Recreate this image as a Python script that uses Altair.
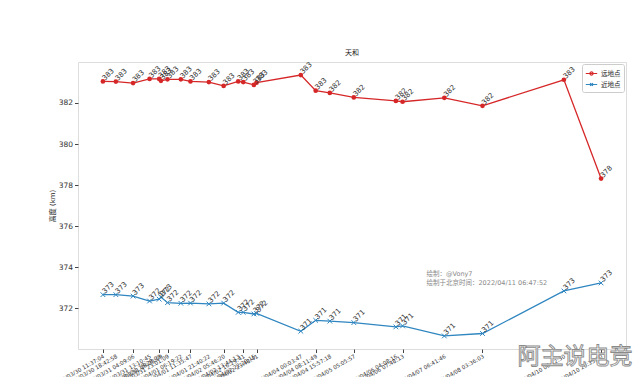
import altair as alt
import pandas as pd
from datetime import datetime

FONT = "DejaVu Sans, Noto Sans CJK SC"

times = [
    "2022-03-30T11:37:04", "2022-03-30T18:42:58", "2022-03-31T04:09:06",
    "2022-03-31T13:10:45", "2022-03-31T18:28:03", "2022-03-31T19:25:09",
    "2022-03-31T23:01:09", "2022-04-01T06:19:22", "2022-04-01T11:35:47",
    "2022-04-01T21:40:22", "2022-04-02T05:46:20", "2022-04-02T13:44:13",
    "2022-04-02T16:29:41", "2022-04-02T22:20:15", "2022-04-02T23:48:41",
    "2022-04-04T00:03:47", "2022-04-04T08:11:49", "2022-04-04T15:57:18",
    "2022-04-05T05:05:57", "2022-04-06T04:08:16", "2022-04-06T07:48:13",
    "2022-04-07T06:41:46", "2022-04-08T03:36:03", "2022-04-10T00:12:30",
    "2022-04-10T20:35:10",
]
apogee = [
    383.05, 383.04, 382.97, 383.17, 383.17, 383.08, 383.15, 383.15, 383.05,
    383.02, 382.83, 383.05, 383.02, 382.88, 382.99, 383.36, 382.60, 382.49,
    382.27, 382.10, 382.06, 382.25, 381.86, 383.13, 378.32,
]
perigee = [
    372.67, 372.67, 372.60, 372.36, 372.45, 372.55, 372.28, 372.25, 372.26,
    372.22, 372.26, 371.81, 371.81, 371.73, 371.76, 370.89, 371.42, 371.38,
    371.31, 371.10, 371.15, 370.66, 370.78, 372.85, 373.24,
]
series_names = ["远地点", "近地点"]
series_colors = ["#d62728", "#2f86c0"]
legend_shapes = [
    "M-1,0L1,0M-0.28,0A0.28,0.28,0,1,1,0.28,0A0.28,0.28,0,1,1,-0.28,0",
    "M-1,0L1,0M-0.25,-0.25L0.25,0.25M-0.25,0.25L0.25,-0.25",
]
y_ticks = [370, 372, 374, 376, 378, 380, 382]
note_lines = ["绘制：@Vony7", "绘制于北京时间：2022/04/11 06:47:52"]
note_time = "2022-04-06T20:55:00"
note_y = [373.66, 373.22]
watermark = "阿主说电竞"

df = pd.concat([
    pd.DataFrame({"time": times, "value": apogee, "series": series_names[0]}),
    pd.DataFrame({"time": times, "value": perigee, "series": series_names[1]}),
], ignore_index=True)
tick_df = pd.DataFrame({"time": times})
notes = pd.DataFrame({"time": [note_time] * 2, "value": note_y, "text": note_lines})


def to_dt(d):
    return alt.DateTime(year=d.year, month=d.month, date=d.day, hours=d.hour,
                        minutes=d.minute, seconds=d.second)


parsed = [datetime.fromisoformat(t) for t in times]
span = parsed[-1] - parsed[0]
lo = parsed[0] - span * 0.05
hi = parsed[-1] + span * 0.05
vmin = min(perigee + apogee)
vmax = max(perigee + apogee)
vr = vmax - vmin
y_dom = [vmin - 0.05 * vr, vmax + 0.05 * vr]

x_enc = alt.X(
    "time:T",
    scale=alt.Scale(domain=[to_dt(lo), to_dt(hi)]),
    axis=alt.Axis(
        values=[to_dt(d) for d in parsed], labels=False, title=None,
        grid=False, domain=False, tickColor="#444", tickSize=3.5,
    ),
)
y_enc = alt.Y(
    "value:Q",
    scale=alt.Scale(domain=y_dom, nice=False, zero=False),
    axis=alt.Axis(
        values=y_ticks, title="高度 (km)", titleFontSize=7, titleFontWeight="normal",
        titleFont=FONT, titleColor="#222", titlePadding=3,
        labelFontSize=7.5, labelFont=FONT, labelColor="#333",
        grid=False, domain=False, tickColor="#444", tickSize=3.5, labelPadding=2,
    ),
)
color_scale = alt.Scale(domain=series_names, range=series_colors)
shape_scale = alt.Scale(domain=series_names, range=legend_shapes)
leg = alt.Legend(
    title=None, orient="top-right", labelFontSize=6.5, labelFont=FONT,
    labelColor="#222", symbolOpacity=1, symbolStrokeWidth=1.2, symbolSize=130,
    strokeColor="#ccc", fillColor="white", padding=3, offset=2, cornerRadius=2,
    rowPadding=0, labelOffset=3)

base = alt.Chart(df)
red = base.transform_filter(alt.datum.series == series_names[0])
blue = base.transform_filter(alt.datum.series == series_names[1])
red_line = red.mark_line(strokeWidth=1.3, color=series_colors[0]).encode(x=x_enc, y=y_enc)
blue_line = blue.mark_line(strokeWidth=1.3, color=series_colors[1]).encode(x="time:T", y="value:Q")
legend_layer = base.mark_point(filled=False, opacity=0, size=10).encode(
    x="time:T", y="value:Q",
    color=alt.Color("series:N", scale=color_scale, sort=series_names, legend=leg),
    shape=alt.Shape("series:N", scale=shape_scale, sort=series_names, legend=leg),
)
red_pts = red.mark_point(
    filled=True, size=22, color=series_colors[0], opacity=1).encode(x="time:T", y="value:Q")
blue_pts = blue.mark_point(
    shape="M-1,-1L1,1M-1,1L1,-1", filled=False, size=22, strokeWidth=1,
    color=series_colors[1], opacity=1).encode(x="time:T", y="value:Q")
labels = base.mark_text(
    angle=315, align="left", baseline="middle", dx=2, dy=-1, fontSize=7,
    font=FONT, color="#333").encode(
    x="time:T", y="value:Q", text=alt.Text("value:Q", format=".0f"))
xlabels = alt.Chart(tick_df).transform_calculate(
    lab="timeFormat(toDate(datum.time), '%Y/%m/%d %H:%M:%S')"
).mark_text(angle=330, align="right", baseline="top", fontSize=5.5, font=FONT,
            color="#333").encode(x="time:T", y=alt.value(292), text="lab:N")
note = alt.Chart(notes).mark_text(
    align="left", baseline="middle", fontSize=6.5, font=FONT, color="#888").encode(
    x="time:T", y="value:Q", text="text:N")
wm = alt.Chart(pd.DataFrame({"t": [watermark]})).mark_text(
    fontSize=23, font="Noto Sans CJK SC", fill="white", stroke="#8a8a8a",
    strokeWidth=0.9, align="center", baseline="middle").encode(
    x=alt.value(497), y=alt.value(295), text="t:N")

chart = alt.layer(red_line, blue_line, legend_layer, red_pts, blue_pts, labels,
                  xlabels, note, wm).properties(
    width=548, height=287,
    title=alt.Title("天和", fontSize=7, fontWeight="normal", font=FONT, offset=5,
                    color="#222"),
    padding={"left": 78, "top": 62, "right": 14, "bottom": 28},
    autosize=alt.AutoSizeParams(type="none"),
).configure_view(stroke="#777", strokeWidth=0.9).configure(background="white")

chart.save("out.html", embed_options={"renderer": "svg", "actions": False})
